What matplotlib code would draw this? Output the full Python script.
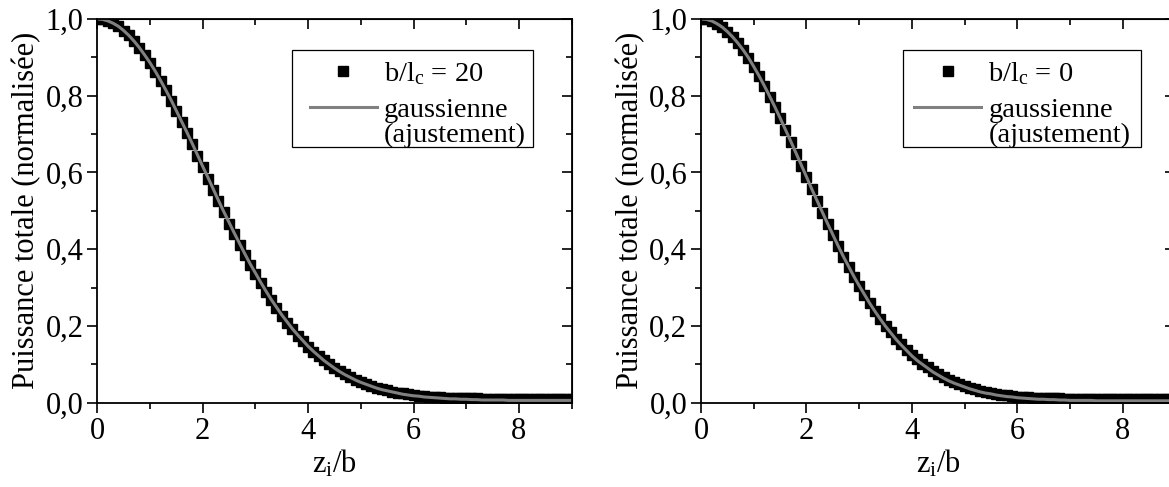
import numpy as np
import matplotlib
matplotlib.use('Agg')
import matplotlib.pyplot as plt
from matplotlib.patches import Rectangle
from matplotlib.ticker import MultipleLocator, FuncFormatter, NullFormatter

plt.rcParams['font.family'] = ['Liberation Serif', 'DejaVu Serif']
plt.rcParams['mathtext.fontset'] = 'custom'
plt.rcParams['mathtext.rm'] = 'Liberation Serif'
plt.rcParams['mathtext.it'] = 'Liberation Serif:italic'

# z_i/b (pas de 0,1)
z = [0.0, 0.1, 0.2, 0.3, 0.4, 0.5, 0.6, 0.7, 0.8, 0.9,
     1.0, 1.1, 1.2, 1.3, 1.4, 1.5, 1.6, 1.7, 1.8, 1.9,
     2.0, 2.1, 2.2, 2.3, 2.4, 2.5, 2.6, 2.7, 2.8, 2.9,
     3.0, 3.1, 3.2, 3.3, 3.4, 3.5, 3.6, 3.7, 3.8, 3.9,
     4.0, 4.1, 4.2, 4.3, 4.4, 4.5, 4.6, 4.7, 4.8, 4.9,
     5.0, 5.1, 5.2, 5.3, 5.4, 5.5, 5.6, 5.7, 5.8, 5.9,
     6.0, 6.1, 6.2, 6.3, 6.4, 6.5, 6.6, 6.7, 6.8, 6.9,
     7.0, 7.1, 7.2, 7.3, 7.4, 7.5, 7.6, 7.7, 7.8, 7.9,
     8.0, 8.1, 8.2, 8.3, 8.4, 8.5, 8.6, 8.7, 8.8, 8.9,
     9.0]

# b/lc = 20 : points simules
puissance_20 = [1.000, 0.999, 0.995, 0.989, 0.981, 0.970, 0.957, 0.942, 0.925, 0.906,
                0.885, 0.863, 0.839, 0.814, 0.787, 0.760, 0.732, 0.703, 0.674, 0.644,
                0.614, 0.584, 0.554, 0.525, 0.496, 0.467, 0.439, 0.412, 0.385, 0.360,
                0.335, 0.311, 0.288, 0.267, 0.246, 0.227, 0.208, 0.191, 0.175, 0.160,
                0.146, 0.133, 0.121, 0.110, 0.100, 0.091, 0.082, 0.074, 0.067, 0.060,
                0.054, 0.049, 0.044, 0.039, 0.035, 0.032, 0.029, 0.026, 0.024, 0.022,
                0.020, 0.018, 0.017, 0.016, 0.015, 0.014, 0.013, 0.013, 0.012, 0.012,
                0.011, 0.011, 0.011, 0.010, 0.010, 0.010, 0.010, 0.010, 0.010, 0.010,
                0.010, 0.010, 0.010, 0.010, 0.010, 0.010, 0.010, 0.010, 0.010, 0.010,
                0.010]
# ajustement gaussien
gauss_20 = [1.000, 0.999, 0.995, 0.989, 0.981, 0.970, 0.957, 0.942, 0.925, 0.906,
            0.886, 0.864, 0.840, 0.815, 0.789, 0.761, 0.733, 0.705, 0.676, 0.646,
            0.616, 0.587, 0.557, 0.527, 0.498, 0.470, 0.442, 0.415, 0.388, 0.362,
            0.338, 0.314, 0.291, 0.269, 0.249, 0.229, 0.211, 0.193, 0.177, 0.162,
            0.147, 0.134, 0.122, 0.110, 0.100, 0.090, 0.081, 0.073, 0.066, 0.059,
            0.053, 0.048, 0.043, 0.038, 0.034, 0.031, 0.028, 0.025, 0.022, 0.020,
            0.018, 0.017, 0.015, 0.014, 0.013, 0.012, 0.011, 0.010, 0.010, 0.009,
            0.009, 0.008, 0.008, 0.007, 0.007, 0.007, 0.007, 0.007, 0.006, 0.006,
            0.006, 0.006, 0.006, 0.006, 0.006, 0.006, 0.006, 0.006, 0.006, 0.006,
            0.006]

# b/lc = 0
puissance_0 = [1.000, 0.999, 0.995, 0.988, 0.979, 0.967, 0.953, 0.937, 0.918, 0.898,
               0.875, 0.851, 0.825, 0.798, 0.770, 0.741, 0.711, 0.680, 0.649, 0.618,
               0.587, 0.556, 0.525, 0.495, 0.465, 0.436, 0.408, 0.380, 0.354, 0.328,
               0.304, 0.281, 0.259, 0.238, 0.218, 0.200, 0.183, 0.167, 0.152, 0.138,
               0.125, 0.113, 0.102, 0.092, 0.083, 0.075, 0.067, 0.060, 0.054, 0.048,
               0.043, 0.039, 0.035, 0.031, 0.028, 0.025, 0.023, 0.021, 0.019, 0.017,
               0.016, 0.015, 0.014, 0.013, 0.012, 0.012, 0.011, 0.011, 0.011, 0.010,
               0.010, 0.010, 0.010, 0.010, 0.010, 0.010, 0.010, 0.010, 0.010, 0.010,
               0.010, 0.010, 0.010, 0.010, 0.010, 0.010, 0.010, 0.010, 0.010, 0.010,
               0.010]
gauss_0 = [1.000, 0.999, 0.995, 0.988, 0.979, 0.967, 0.953, 0.937, 0.919, 0.899,
           0.876, 0.852, 0.826, 0.799, 0.771, 0.742, 0.712, 0.682, 0.651, 0.620,
           0.589, 0.557, 0.527, 0.497, 0.467, 0.438, 0.409, 0.381, 0.355, 0.329,
           0.305, 0.282, 0.259, 0.238, 0.218, 0.199, 0.182, 0.165, 0.150, 0.136,
           0.122, 0.110, 0.100, 0.090, 0.080, 0.072, 0.064, 0.057, 0.051, 0.046,
           0.041, 0.036, 0.032, 0.028, 0.025, 0.023, 0.020, 0.018, 0.016, 0.015,
           0.013, 0.012, 0.011, 0.010, 0.009, 0.009, 0.008, 0.008, 0.007, 0.007,
           0.006, 0.006, 0.006, 0.006, 0.006, 0.005, 0.005, 0.005, 0.005, 0.005,
           0.005, 0.005, 0.005, 0.005, 0.005, 0.005, 0.005, 0.005, 0.005, 0.005,
           0.005]

labels = [r'b/l$_{\mathregular{c}}$ = 20', r'b/l$_{\mathregular{c}}$ = 0']

FS = 22
FS_LEG = 20.5


def virgule(v, pos):
    return '{:.1f}'.format(v).replace('.', ',')


def locs(axis, maj, mino):
    axis.set_major_locator(MultipleLocator(maj))
    axis.set_minor_locator(MultipleLocator(mino))


def trace(ax, pts, fit, label, cadre, leg_x):
    pts_line, = ax.plot(z, pts, ls='none', marker='s', ms=6.8, color='black',
                        mec='black', label=label)
    fit_line, = ax.plot(z, fit, color='#808080', lw=2.2, label='gaussienne')
    vide, = ax.plot([], [], ls='none')
    ax.set_xlim(0, 9)
    ax.set_ylim(0, 1)
    locs(ax.xaxis, 2, 1)
    locs(ax.yaxis, 0.2, 0.1)
    ax.yaxis.set_major_formatter(FuncFormatter(virgule))
    ax.tick_params(which='both', direction='out', width=1.2, labelsize=FS, pad=3)
    ax.tick_params(which='major', length=7)
    ax.tick_params(which='minor', length=4)

    # axes du haut et de droite : graduations vers l'interieur
    haut = ax.secondary_xaxis('top')
    droite = ax.secondary_yaxis('right')
    locs(haut.xaxis, 2, 1)
    locs(droite.yaxis, 0.2, 0.1)
    for sec in (haut, droite):
        sec.tick_params(which='both', direction='in', width=1.2)
        sec.tick_params(which='major', length=7)
        sec.tick_params(which='minor', length=4)
    haut.xaxis.set_major_formatter(NullFormatter())
    droite.yaxis.set_major_formatter(NullFormatter())

    for s in ax.spines.values():
        s.set_linewidth(1.3)
    ax.set_xlabel(r'z$_{\mathregular{i}}$/b', fontsize=FS, labelpad=2)
    ax.set_ylabel('Puissance totale (normalisée)', fontsize=FS, labelpad=3)

    # cadre de la legende dessine a part
    x0, y0, x1, y1 = cadre
    ax.add_patch(Rectangle((x0, y0), x1 - x0, y1 - y0, transform=ax.transAxes,
                           fill=False, ec='black', lw=0.9, zorder=5))
    opts = dict(loc='upper left', fontsize=FS_LEG, frameon=False, borderpad=0,
                handlelength=2.35, handletextpad=0.25, borderaxespad=0)
    leg1 = ax.legend([pts_line], [label], bbox_to_anchor=(leg_x, 0.892), **opts)
    ax.add_artist(leg1)
    ax.legend([fit_line, vide], ['gaussienne', '(ajustement)'],
              bbox_to_anchor=(leg_x, 0.797), labelspacing=-0.03, **opts)


fig = plt.figure(figsize=(11.69, 4.87), dpi=100)
ax1 = fig.add_axes([0.0832, 0.1731, 0.4058, 0.7879])
ax2 = fig.add_axes([0.5997, 0.1731, 0.4058, 0.7879])

trace(ax1, puissance_20, gauss_20, labels[0], (0.410, 0.666, 0.918, 0.919), 0.448)
trace(ax2, puissance_0, gauss_0, labels[1], (0.426, 0.666, 0.927, 0.919), 0.4496)

fig.savefig('out.png', dpi=100)
